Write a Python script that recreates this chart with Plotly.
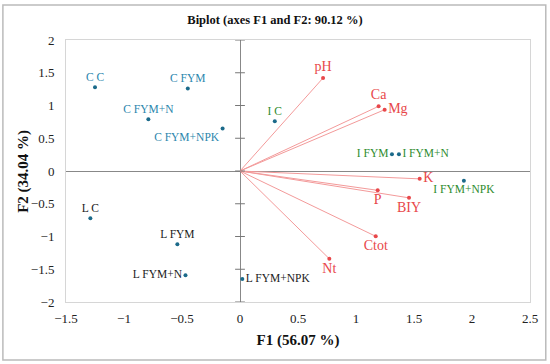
import plotly.graph_objects as go

# Observations
obs_names = ["C C", "C FYM", "C FYM+N", "C FYM+NPK",
             "I C", "I FYM", "I FYM+N", "I FYM+NPK",
             "L C", "L FYM", "L FYM+N", "L FYM+NPK"]
obs_f1 = [-1.25, -0.45, -0.79, -0.15, 0.30, 1.31, 1.37, 1.93, -1.29, -0.54, -0.47, 0.02]
obs_f2 = [1.28, 1.26, 0.79, 0.65, 0.76, 0.255, 0.255, -0.15, -0.72, -1.12, -1.59, -1.65]
obs_pos = ["top center", "top center", "top center", "bottom left",
           "top center", "middle left", "middle right", "bottom center",
           "top center", "top center", "middle left", "middle right"]

# Variables
var_names = ["pH", "Ca", "Mg", "K", "P", "BIY", "Ctot", "Nt"]
var_f1 = [0.716, 1.195, 1.247, 1.549, 1.187, 1.457, 1.17, 0.77]
var_f2 = [1.42, 0.988, 0.936, -0.12, -0.295, -0.41, -0.997, -1.34]
var_pos = ["top center", "top center", "middle right", "middle right",
           "bottom center", "bottom center", "bottom center", "bottom center"]

y_ticks = [-2, -1.5, -1, -0.5, 0, 0.5, 1, 1.5, 2]

group_color = {"C": "#2b86ad", "I": "#2e8b2e", "L": "#1a1a1a"}
label_colors = [group_color[n[0]] for n in obs_names]

FONT = "Liberation Serif"
RED = "#e8474a"

fig = go.Figure()

# variable vectors
for n, x, y in zip(var_names, var_f1, var_f2):
    fig.add_trace(go.Scatter(x=[0, x], y=[0, y], mode="lines",
                             line=dict(color="#f39a9a", width=1),
                             hoverinfo="skip", showlegend=False))
fig.add_trace(go.Scatter(x=var_f1, y=var_f2, mode="markers+text",
                         text=var_names, textposition=var_pos,
                         marker=dict(color=RED, size=4),
                         textfont=dict(family=FONT, size=14, color=RED),
                         showlegend=False))

# observations
fig.add_trace(go.Scatter(x=obs_f1, y=obs_f2, mode="markers+text",
                         text=obs_names, textposition=obs_pos,
                         marker=dict(color="#1b6a8a", size=4),
                         textfont=dict(family=FONT, size=11.5, color=label_colors),
                         showlegend=False))

# tick marks on the vertical zero axis
fig.add_trace(go.Scatter(x=[0] * len(y_ticks), y=y_ticks, mode="markers",
                         marker=dict(symbol="line-ew", size=7,
                                     line=dict(color="#777", width=1)),
                         hoverinfo="skip", showlegend=False, cliponaxis=False))

fig.update_layout(
    width=550, height=364,
    margin=dict(l=66, r=20, t=40, b=62, autoexpand=False),
    paper_bgcolor="white", plot_bgcolor="white",
    font=dict(family=FONT, size=12, color="#222"),
    title=dict(text="<b>Biplot (axes F1 and F2: 90.12 %)</b>",
               x=0.5, xanchor="center", y=0.945, yanchor="middle",
               automargin=False,
               font=dict(family=FONT, size=12.5, color="#111")),
    xaxis=dict(range=[-1.5, 2.5], dtick=0.5, showgrid=False, automargin=False,
               zeroline=True, zerolinecolor="#888", zerolinewidth=1,
               showline=True, linecolor="#d6d6d6", linewidth=1, mirror=True,
               ticks="", ticklabelstandoff=4,
               tickfont=dict(family=FONT, size=13, color="#222"),
               title=dict(text="<b>F1 (56.07 %)</b>", standoff=9,
                          font=dict(family=FONT, size=15, color="#111"))),
    yaxis=dict(range=[-2, 2], dtick=0.5, showgrid=False, automargin=False,
               zeroline=True, zerolinecolor="#888", zerolinewidth=1,
               showline=True, linecolor="#d6d6d6", linewidth=1, mirror=True,
               ticks="", ticklabelstandoff=8,
               tickfont=dict(family=FONT, size=13, color="#222")),
    annotations=[dict(text="<b>F2 (34.04 %)</b>", textangle=-90,
                      xref="paper", yref="paper", x=-0.093, y=0.5,
                      xanchor="center", yanchor="middle", showarrow=False,
                      font=dict(family=FONT, size=15, color="#111"))],
    shapes=[dict(type="rect", xref="paper", yref="paper",
                 x0=-0.136, x1=1.034, y0=-0.221, y1=1.134,
                 line=dict(color="#bbbbbb", width=1.5), layer="below")],
)

fig.write_html("out.html",
               config={"displayModeBar": False},
               post_script="document.body.style.margin='0';"
                           "document.body.style.overflow='hidden';")
